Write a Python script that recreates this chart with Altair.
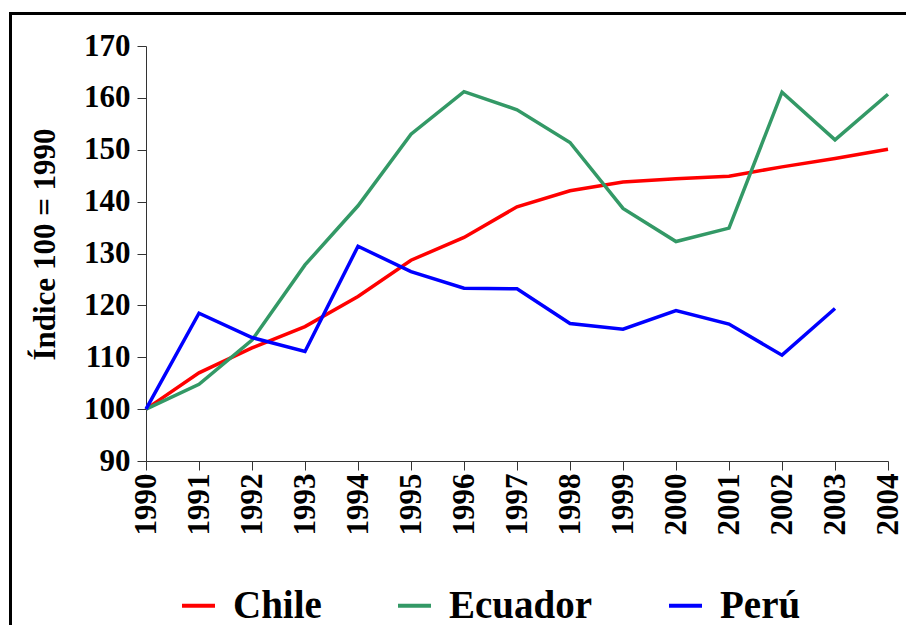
import altair as alt
import pandas as pd

years = list(range(1990, 2005))
chile = [100, 107.0, 111.8, 115.9, 121.7, 128.7, 133.1, 139.0, 142.1, 143.8, 144.4, 144.9, 146.7, 148.3, 150.1]
ecuador = [100, 104.8, 113.3, 127.8, 139.2, 153.0, 161.2, 157.7, 151.4, 138.7, 132.3, 134.9, 161.1, 151.9, 160.7]
peru = [100, 118.5, 113.8, 111.1, 131.4, 126.5, 123.3, 123.2, 116.5, 115.4, 119.0, 116.4, 110.4, 119.4]

series_names = ["Chile", "Ecuador", "Perú"]
series_colors = ["#FF0000", "#339966", "#0000FF"]
y_ticks = list(range(90, 171, 10))

rows = []
for name, vals in zip(series_names, [chile, ecuador, peru]):
    for yr, v in zip(years, vals):
        rows.append({"year": yr, "value": v, "country": name})
df = pd.DataFrame(rows)

W, H = 742, 415
FONT = "Liberation Serif"

lines = alt.Chart(df).mark_line(strokeWidth=3.5).encode(
    x=alt.X("year:Q", scale=alt.Scale(domain=[1990, 2004], nice=False, zero=False),
            axis=alt.Axis(values=years, format="d", labelAngle=-90, title=None,
                          grid=False, tickSize=9, labelPadding=3,
                          labelFontSize=31, labelFont=FONT, labelFontWeight="bold",
                          labelColor="black", domainColor="#333333", tickColor="#333333",
                          labelFlush=False, labelOverlap=False)),
    y=alt.Y("value:Q", scale=alt.Scale(domain=[90, 170], nice=False, zero=False),
            axis=alt.Axis(values=y_ticks, title="Índice 100 = 1990", grid=False,
                          tickSize=9, labelPadding=7,
                          labelFontSize=31, labelFont=FONT, labelFontWeight="bold",
                          labelColor="black", domainColor="#333333", tickColor="#333333",
                          titleFontSize=31, titleFont=FONT, titleFontWeight="bold",
                          titleColor="black", titlePadding=22, titleY=198,
                          labelFlush=False, labelOverlap=False)),
    color=alt.Color("country:N",
                    scale=alt.Scale(domain=series_names, range=series_colors),
                    legend=alt.Legend(title=None, orient="none", direction="horizontal",
                                      legendX=33, legendY=540,
                                      symbolType="stroke", symbolSize=1089,
                                      symbolStrokeWidth=4, labelOffset=15,
                                      columnPadding=68,
                                      labelFontSize=39, labelFont=FONT,
                                      labelFontWeight="bold", labelColor="black",
                                      labelLimit=400)),
)

frame = alt.Chart(alt.Data(values=[{"k": 1}])).mark_rect(
    fill="transparent", stroke="black", strokeWidth=3
).encode(
    x=alt.value(-135.5), x2=alt.value(W + 60),
    y=alt.value(-32.5), y2=alt.value(H + 250),
)

chart = alt.layer(frame, lines).properties(
    width=W, height=H,
    autosize=alt.AutoSizeParams(type="none"),
    padding={"left": 138, "top": 38, "right": 18, "bottom": 164},
).configure_view(stroke=None)

chart.save("out.html", embed_options={"renderer": "svg", "actions": False})
